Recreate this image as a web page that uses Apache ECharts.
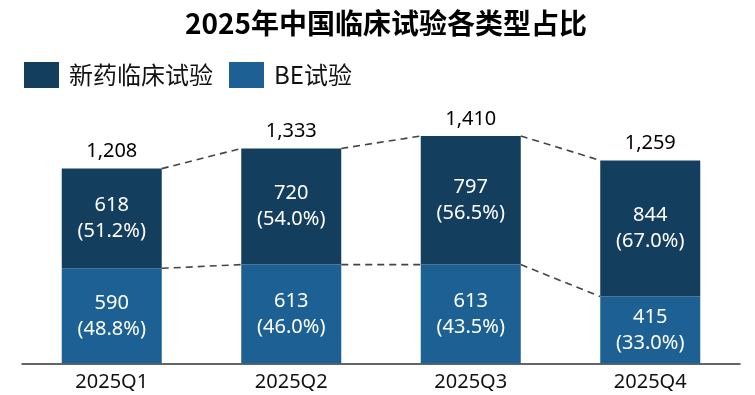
<!DOCTYPE html>
<html>
<head>
<meta charset="utf-8">
<script src="https://cdn.jsdelivr.net/npm/echarts@6/dist/echarts.min.js"></script>
<style>html,body{margin:0;padding:0;background:#fff;}#c{width:755px;height:395px;}</style>
</head>
<body>
<div id="c"></div>
<script>
const categories = ['2025Q1', '2025Q2', '2025Q3', '2025Q4'];
const newDrug = [618, 720, 797, 844];
const newDrugPct = ['51.2%', '54.0%', '56.5%', '67.0%'];
const be = [590, 613, 613, 415];
const bePct = ['48.8%', '46.0%', '43.5%', '33.0%'];
const totals = [1208, 1333, 1410, 1259];
const totalLabels = ['1,208', '1,333', '1,410', '1,259'];

const C_DARK = '#143e5e';
const C_BLUE = '#1d6194';
const BAR_W = 100;
const NUM_FONT = 'Noto Sans';
const CJK_FONT = '"Noto Sans CJK SC"';

const connectorData = [];
for (let i = 0; i < categories.length - 1; i++) {
  connectorData.push([i, totals[i], totals[i + 1]]);
  connectorData.push([i, be[i], be[i + 1]]);
}

const chart = echarts.init(document.getElementById('c'));
chart.setOption({
  animation: false,
  title: {
    text: '2025年中国临床试验各类型占比',
    left: 381, top: 4, textAlign: 'center',
    textStyle: { fontFamily: CJK_FONT, fontSize: 28, fontWeight: 'bold', color: '#000' }
  },
  legend: {
    data: ['新药临床试验', 'BE试验'],
    left: 19, top: 57,
    itemWidth: 35, itemHeight: 26, itemGap: 16,
    icon: 'rect',
    textStyle: { fontFamily: CJK_FONT, fontSize: 24, color: '#111', padding: [0, 0, 0, 5] }
  },
  grid: { left: 22, right: 15, top: 121.5, bottom: 31.5 },
  xAxis: {
    type: 'category', data: categories,
    axisLine: { lineStyle: { color: '#333', width: 1.5 } },
    axisTick: { show: false },
    axisLabel: { fontFamily: NUM_FONT, fontSize: 20, color: '#111', margin: 9 }
  },
  yAxis: { type: 'value', min: 0, max: 1500, show: false, splitLine: { show: false } },
  series: [
    {
      name: 'BE试验', type: 'bar', stack: 's', barWidth: BAR_W, data: be,
      itemStyle: { color: C_BLUE },
      label: {
        show: true, position: 'inside', color: '#fff', fontFamily: NUM_FONT, fontSize: 20, lineHeight: 26,
        formatter: p => be[p.dataIndex] + '\n(' + bePct[p.dataIndex] + ')'
      }
    },
    {
      name: '新药临床试验', type: 'bar', stack: 's', barWidth: BAR_W, data: newDrug,
      itemStyle: { color: C_DARK },
      label: {
        show: true, position: 'inside', color: '#fff', fontFamily: NUM_FONT, fontSize: 20, lineHeight: 26,
        formatter: p => newDrug[p.dataIndex] + '\n(' + newDrugPct[p.dataIndex] + ')'
      }
    },
    {
      name: 'total', type: 'scatter', data: totals, symbolSize: 0, silent: true,
      itemStyle: { opacity: 1 },
      label: {
        show: true, position: 'top', distance: 7, color: '#000', fontFamily: NUM_FONT, fontSize: 20,
        formatter: p => totalLabels[p.dataIndex]
      }
    },
    {
      name: 'connector', type: 'custom', silent: true, data: connectorData,
      encode: { x: 0, y: 1 },
      renderItem: function (params, api) {
        const i = api.value(0);
        const p1 = api.coord([i, api.value(1)]);
        const p2 = api.coord([i + 1, api.value(2)]);
        return {
          type: 'line',
          shape: { x1: p1[0] + BAR_W / 2, y1: p1[1], x2: p2[0] - BAR_W / 2, y2: p2[1] },
          style: { stroke: '#444', lineWidth: 1.6, lineDash: [7, 5] }
        };
      }
    }
  ]
});
</script>
</body>
</html>
